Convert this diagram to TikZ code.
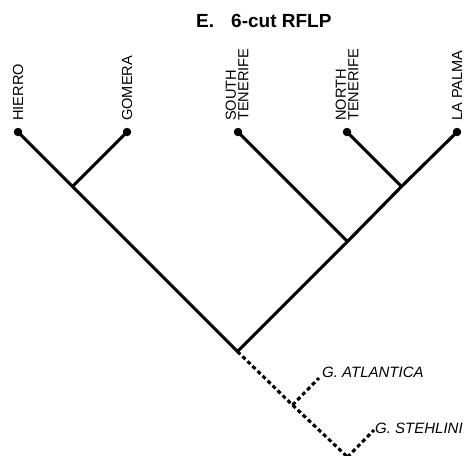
\documentclass[tikz,border=0pt]{standalone}
\usepackage{fontspec}
\setmainfont{Liberation Sans}
\begin{document}
\begin{tikzpicture}[x=1pt,y=-1pt,
  dot/.style={circle,fill=black,inner sep=0pt,minimum size=8.5pt},
  leaflabel/.style={rotate=90,anchor=west,inner sep=0pt,align=left,font=\fontsize{14.6}{12.5}\selectfont},
  branch/.style={line width=3.1pt,line join=miter},
  dbranch/.style={line width=3.1pt,dash pattern=on 4pt off 3pt},
  spname/.style={anchor=base west,inner sep=0pt,font=\fontsize{15}{18}\selectfont\itshape}]
\useasboundingbox (0,0) rectangle (467,456);
\node[anchor=base west,inner sep=0pt,font=\fontsize{19}{22}\selectfont\bfseries] (title) at (196,27) {E.\hspace{0.9em}6-cut RFLP};
% leaves
\node[dot] (hierro) at (18,132) {};
\node[dot] (gomera) at (127,132) {};
\node[dot] (stf) at (238,132) {};
\node[dot] (ntf) at (347,132) {};
\node[dot] (lapalma) at (457,132) {};
\node[leaflabel] (lhierro) at (18,121) {HIERRO};
\node[leaflabel] (lgomera) at (127,121) {GOMERA};
\node[leaflabel] (lstf) at (237,121) {SOUTH\\TENERIFE};
\node[leaflabel] (lntf) at (347,121) {NORTH\\TENERIFE};
\node[leaflabel] (llapalma) at (457,121) {LA PALMA};
% internal
\coordinate (hg) at (72.5,186.5);
\coordinate (nl) at (401.5,186.5);
\coordinate (snl) at (347.5,241.5);
\coordinate (root) at (237.5,351.5);
\coordinate (atj) at (292.5,405);
\coordinate (atend) at (319,378);
\coordinate (stj) at (347.5,457);
\coordinate (stend) at (374,430);
\draw[branch] (hierro.center) -- (hg) -- (root) -- (snl) -- (nl) -- (lapalma.center);
\draw[branch] (gomera.center) -- (hg);
\draw[branch] (stf.center) -- (snl);
\draw[branch] (ntf.center) -- (nl);
\draw[dbranch] (root) -- (atj) -- (stj);
\draw[dbranch] (atj) -- (atend);
\draw[dbranch] (stj) -- (stend);
\node[spname] (atl) at (322,377) {G. ATLANTICA};
\node[spname] (ste) at (375,433) {G. STEHLINI};
\end{tikzpicture}
\end{document}
